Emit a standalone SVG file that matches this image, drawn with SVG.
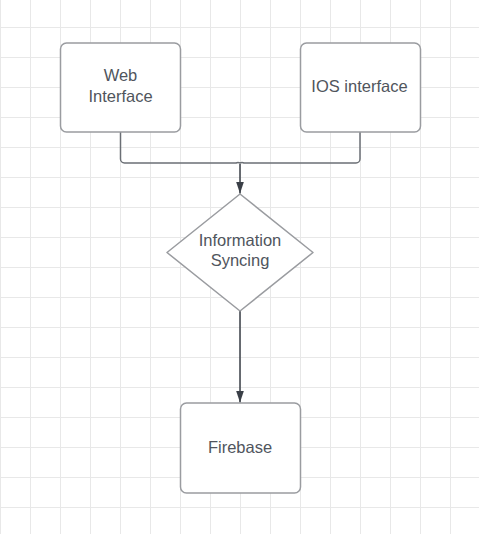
<svg xmlns="http://www.w3.org/2000/svg" width="479" height="534" viewBox="0 0 479 534">
<defs>
<pattern id="grid" x="0" y="-3" width="30" height="30" patternUnits="userSpaceOnUse">
<path d="M0 0.5H30M0.5 0V30" fill="none" stroke="#e8e8e8" stroke-width="1"/>
</pattern>
<marker id="arr" markerWidth="12" markerHeight="8" refX="12" refY="4" orient="auto" markerUnits="userSpaceOnUse" viewBox="0 0 12 8">
<path d="M0 0L12 4L0 8Z" fill="#3a3f47"/>
</marker>
<style>
.box{fill:#ffffff;stroke:#9a9ca0;stroke-width:1.5}
.lbl{font-family:"Liberation Sans",Arial,sans-serif;font-size:16.5px;fill:#50555d;text-anchor:middle}
.conn{fill:none;stroke:#6b6f75;stroke-width:1.5}
.carr{fill:none;stroke:#3a3f47;stroke-width:1.5}
</style>
</defs>
<rect width="479" height="534" fill="#ffffff"/>
<rect width="479" height="534" fill="url(#grid)"/>
<g id="connectors">
<path class="conn" d="M120.5 132V159a4 4 0 0 0 4 4H236a4 4 0 0 1 4 0a4 4 0 0 1 4 0H356a4 4 0 0 0 4-4V132"/>
<path class="carr" d="M240 164V193.5" marker-end="url(#arr)"/>
<path class="carr" d="M240 311V402.5" marker-end="url(#arr)"/>
</g>
<g id="web">
<rect class="box" x="60.5" y="43" width="120" height="89" rx="6"/>
<text class="lbl" x="120.5" y="81">Web</text>
<text class="lbl" x="120.5" y="102">Interface</text>
</g>
<g id="ios">
<rect class="box" x="300.5" y="43" width="120" height="89" rx="6"/>
<text class="lbl" x="359.5" y="92">IOS interface</text>
</g>
<g id="sync">
<path class="box" d="M240 194L313 252.5L240 311L167 252.5Z" stroke-linejoin="round"/>
<text class="lbl" x="240" y="246">Information</text>
<text class="lbl" x="240" y="266">Syncing</text>
</g>
<g id="firebase">
<rect class="box" x="180.5" y="403" width="120" height="90" rx="6"/>
<text class="lbl" x="240" y="453">Firebase</text>
</g>
</svg>
